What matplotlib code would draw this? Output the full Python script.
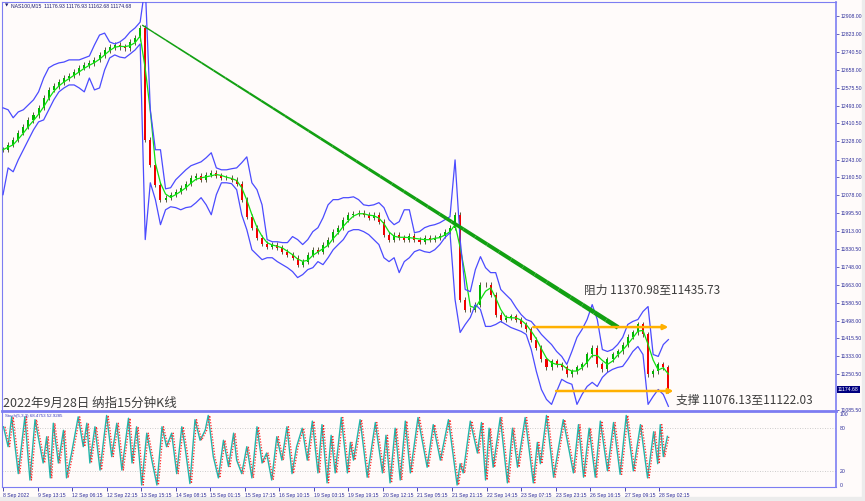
import numpy as np
import pandas as pd
import matplotlib
matplotlib.use("Agg")
import matplotlib.pyplot as plt
from matplotlib.collections import LineCollection
from matplotlib.patches import Rectangle

plt.rcParams['font.family'] = ['Noto Sans CJK SC', 'DejaVu Sans']

# NAS100 M15, one close every 10 bars
bar_step = 10
close = [12289, 12312, 12335, 12367, 12395, 12427, 12450, 12483, 12529, 12566,
         12584, 12603, 12621, 12631, 12649, 12668, 12681, 12691, 12705, 12728,
         12751, 12765, 12774, 12765, 12760, 12788, 12806, 12853, 12335, 12219,
         12127, 12058, 12067, 12081, 12095, 12113, 12131, 12159, 12168, 12150,
         12173, 12182, 12168, 12159, 12159, 12150, 12131, 12058, 11979, 11928,
         11882, 11854, 11840, 11850, 11836, 11817, 11803, 11789, 11757, 11771,
         11803, 11826, 11817, 11850, 11873, 11910, 11928, 11965, 11988, 11993,
         11997, 11988, 11974, 11988, 11956, 11896, 11873, 11896, 11882, 11873,
         11891, 11873, 11863, 11882, 11873, 11882, 11891, 11910, 11928, 11988,
         11595, 11549, 11549, 11572, 11665, 11665, 11618, 11526, 11503, 11512,
         11517, 11503, 11480, 11457, 11410, 11373, 11318, 11281, 11309, 11295,
         11281, 11249, 11263, 11281, 11295, 11341, 11373, 11295, 11272, 11318,
         11341, 11355, 11387, 11424, 11443, 11480, 11434, 11249, 11263, 11295,
         11281, 11174.68]
upper_band = [12483, 12474, 12437, 12464, 12474, 12497, 12520, 12557, 12621, 12668,
              12682, 12691, 12695, 12705, 12705, 12705, 12714, 12723, 12774, 12820,
              12829, 12788, 12779, 12788, 12806, 12834, 12853, 12880, 13050, 12474,
              12289, 12289, 12108, 12113, 12150, 12173, 12196, 12215, 12224, 12233,
              12252, 12275, 12205, 12196, 12196, 12201, 12205, 12229, 12256, 12136,
              12104, 12034, 11873, 11863, 11863, 11859, 11859, 11887, 11873, 11850,
              11873, 11910, 11928, 11974, 12034, 12058, 12058, 12067, 12067, 12071,
              12058, 12034, 12030, 12034, 12044, 12021, 11965, 11942, 11956, 12011,
              12011, 11905, 11910, 11928, 11937, 11942, 11951, 11965, 11979, 12242,
              11873, 11642, 11632, 11734, 11794, 11743, 11720, 11720, 11642, 11618,
              11595, 11558, 11526, 11503, 11494, 11466, 11434, 11410, 11387, 11355,
              11332, 11295, 11355, 11420, 11457, 11503, 11572, 11503, 11364, 11355,
              11364, 11387, 11420, 11480, 11494, 11503, 11540, 11563, 11341, 11332,
              11387, 11410]
lower_band = [12081, 12205, 12187, 12242, 12289, 12335, 12381, 12418, 12427, 12474,
              12520, 12557, 12575, 12589, 12589, 12575, 12557, 12621, 12566, 12575,
              12658, 12714, 12728, 12718, 12714, 12732, 12751, 12779, 11873, 12136,
              12058, 11942, 12011, 12025, 12021, 12011, 12021, 12025, 12044, 12067,
              12034, 11988, 12081, 12136, 12136, 12132, 12104, 11988, 11919, 11826,
              11803, 11780, 11789, 11789, 11771, 11757, 11743, 11725, 11697, 11711,
              11734, 11743, 11771, 11757, 11789, 11826, 11850, 11873, 11910, 11919,
              11919, 11910, 11896, 11873, 11850, 11789, 11771, 11789, 11720, 11771,
              11789, 11817, 11826, 11817, 11813, 11826, 11850, 11882, 11905, 11595,
              11443, 11480, 11512, 11572, 11549, 11471, 11471, 11480, 11494, 11480,
              11466, 11457, 11448, 11434, 11364, 11263, 11179, 11133, 11110, 11170,
              11226, 11212, 11203, 11110, 11156, 11193, 11212, 11193, 11235, 11258,
              11272, 11281, 11286, 11318, 11355, 11378, 11341, 11110, 11147, 11179,
              11156, 11101]

# Stoch(5,3,3) main line, turning points (bar index, value)
stoch_bar = [1, 10, 17, 30, 43, 53, 63, 73, 79, 86, 93, 99, 109, 119, 125, 135,
             148, 158, 165, 171, 181, 191, 204, 214, 224, 234, 247, 254, 263, 273,
             283, 293, 303, 313, 322, 332, 342, 352, 359, 368, 378, 388, 398, 404,
             414, 424, 434, 444, 454, 460, 470, 480, 490, 500, 510, 519, 529, 539,
             549, 559, 569, 578, 589, 599, 609, 620, 628, 638, 646, 654, 666, 678,
             684, 690, 703, 717, 733, 747, 754, 762, 772, 782, 792, 802, 817, 835,
             847, 861, 877, 894, 900, 906, 920, 934, 942, 950, 957, 965, 979, 993,
             1003, 1013, 1028, 1044, 1052, 1058, 1070, 1084, 1103, 1123, 1133, 1143,
             1154, 1166, 1176, 1190, 1202, 1215, 1227, 1241, 1255, 1269, 1281, 1289,
             1294, 1300, 1308]
stoch_k = [82, 54, 96, 16, 96, 7, 92, 54, 31, 68, 10, 87, 31, 77, 10, 45,
           96, 54, 87, 31, 82, 21, 98, 40, 87, 21, 94, 31, 82, 0,
           73, 35, 0, 82, 54, 73, 16, 82, 50, 2, 92, 63, 77, 98,
           40, 10, 63, 26, 73, 35, 16, 54, 10, 82, 31, 45, 7, 68,
           35, 82, 16, 54, 80, 35, 90, 17, 85, 3, 70, 17, 95, 17,
           60, 35, 92, 11, 88, 17, 70, 3, 80, 7, 90, 17, 95, 25,
           85, 35, 92, 0, 30, 17, 90, 45, 88, 7, 80, 25, 95, 3,
           80, 25, 95, 3, 60, 30, 98, 11, 92, 17, 85, 11,
           80, 11, 90, 20, 88, 15, 98, 20, 85, 10, 75, 30,
           85, 40, 68.47]

price_ticks = [12908.00, 12823.00, 12740.50, 12658.00, 12575.50, 12493.00,
               12410.50, 12328.00, 12243.00, 12160.50, 12078.00, 11995.50,
               11913.00, 11830.50, 11748.00, 11663.00, 11580.50, 11498.00,
               11415.50, 11333.00, 11250.50, 11085.50]
time_labels = ["8 Sep 2022", "9 Sep 13:15", "12 Sep 06:15", "12 Sep 22:15",
               "13 Sep 15:15", "14 Sep 08:15", "15 Sep 01:15", "15 Sep 17:15",
               "16 Sep 10:15", "19 Sep 03:15", "19 Sep 19:15", "20 Sep 12:15",
               "21 Sep 05:15", "21 Sep 21:15", "22 Sep 14:15", "23 Sep 07:15",
               "23 Sep 23:15", "26 Sep 16:15", "27 Sep 09:15", "28 Sep 02:15"]
bars_per_label = 68

# drawn objects: trend line and the two horizontal arrows
trend_start = (274, 12866)
trend_end = (1211, 11466)
resist_span = (1044, 1310, 11468)
support_span = (1089, 1320, 11172)

W, H = 865, 501
bg = '#fffbfa'
frame = '#7d7df2'
tick_col = '#2e2e9a'
small = dict(family='Liberation Sans', size=3.7)

fig = plt.figure(figsize=(W / 100, H / 100), dpi=100, facecolor=bg)
ax = fig.add_axes([2 / W, 1 - 410 / H, 834 / W, 408 / H], facecolor=bg)
ax2 = fig.add_axes([2 / W, 1 - 487 / H, 834 / W, 76 / H], facecolor=bg, sharex=ax)

x = np.arange(len(close)) * bar_step
close_a = np.array(close, dtype=float)

# candles between consecutive closes
opens = np.r_[close_a[0], close_a[:-1]]
body = close_a - opens
cols = np.where(body >= 0, '#00b400', '#f00000')
ax.vlines(x, np.minimum(opens, close_a) - 12, np.maximum(opens, close_a) + 12,
          color='#404020', lw=0.6, zorder=2)
ax.bar(x, body, bottom=opens, width=4, color=cols, zorder=3)

ma = pd.Series(close_a).rolling(3, min_periods=1).mean()
ax.plot(x, ma, color='#10e010', lw=0.9, zorder=4)
ax.plot(x, upper_band, color='#4b4bff', lw=0.9, zorder=5)
ax.plot(x, lower_band, color='#4b4bff', lw=0.9, zorder=5)

# tapered green trend line
t = np.linspace(0, 1, 41)
tx = trend_start[0] + t * (trend_end[0] - trend_start[0])
ty = trend_start[1] + t * (trend_end[1] - trend_start[1])
segs = np.stack([np.c_[tx[:-1], ty[:-1]], np.c_[tx[1:], ty[1:]]], axis=1)
ax.add_collection(LineCollection(segs, colors='#12a012',
                                 linewidths=np.linspace(1.0, 3.4, 40), zorder=6))

for x0, x1, lvl in (resist_span, support_span):
    ax.annotate('', xy=(x1, lvl), xytext=(x0, lvl),
                arrowprops=dict(arrowstyle='-|>', color='#ffb000', lw=1.8,
                                mutation_scale=7, shrinkA=0, shrinkB=0), zorder=7)

ax.set_xlim(-2, 1640)
ax.set_ylim(11084, 12973)
ax.yaxis.tick_right()
ax.set_yticks(price_ticks)
ax.set_yticklabels([f'{v:.2f}' for v in price_ticks], **small)
ax.tick_params(axis='y', direction='out', length=2.5, width=0.5, color=tick_col,
               labelcolor=tick_col, pad=1.2)
ax.tick_params(axis='x', bottom=False, labelbottom=False)

# stochastic panel
ax2.axhline(80, color='#bdbdbd', lw=0.6, ls=(0, (1, 2)))
ax2.axhline(20, color='#bdbdbd', lw=0.6, ls=(0, (1, 2)))
ax2.plot(stoch_bar, stoch_k, color='#22b5aa', lw=1.0)
ax2.plot(np.array(stoch_bar) + 3, stoch_k, color='#ff2a2a', lw=0.9, ls=(0, (1, 1.3)))
ax2.set_ylim(-2.8, 104.2)
ax2.yaxis.tick_right()
ax2.set_yticks([0, 20, 80, 100])
ax2.set_yticklabels(['0', '20', '80', '100'], **small)
ax2.tick_params(axis='y', direction='out', length=0, color=tick_col,
                labelcolor=tick_col, pad=2.5)
ax2.set_xticks(np.arange(len(time_labels)) * bars_per_label)
ax2.set_xticklabels(time_labels, **small)
ax2.tick_params(axis='x', direction='out', length=3, width=0.6, color=tick_col,
                labelcolor=tick_col, pad=1.2)
for lab in ax2.get_xticklabels():
    lab.set_horizontalalignment('left')

for a in (ax, ax2):
    for s in a.spines.values():
        s.set_color(frame)
        s.set_linewidth(0.8)
    a.spines['right'].set_linewidth(1.2)
ax2.spines['top'].set_linewidth(2.0)
ax.spines['bottom'].set_visible(False)

# texts
fig.text(5 / W, 1 - 5.5 / H, '\u25bc', color='#1c1c70', fontsize=3.2, va='center',
         family='DejaVu Sans')
fig.text(11 / W, 1 - 5.5 / H, 'NAS100,M15  11176.93 11176.93 11162.68 11174.68',
         color='#1c1c70', va='center', **small)
fig.text(5 / W, 1 - 416 / H, 'Stoch(5,3,3) 68.4753 52.9285', color='#3b3bc0',
         va='center', family='Liberation Sans', size=3.2)
fig.text(3 / W, 1 - 403 / H, '2022年9月28日 纳指15分钟K线', color='#3c3c3c',
         fontsize=9, va='center')
fig.text(584 / W, 1 - 290 / H, '阻力 11370.98至11435.73', color='#3c3c3c',
         fontsize=8.5, va='center')
fig.text(676 / W, 1 - 400 / H, '支撑 11076.13至11122.03', color='#3c3c3c',
         fontsize=8.5, va='center')
fig.text(838 / W, 1 - 389.5 / H, '11174.68', color='white', va='center',
         bbox=dict(facecolor='#000080', edgecolor='none', pad=0.7), **small)

fig.patches.append(Rectangle((0, 0), 1, 4 / H, transform=fig.transFigure,
                             color='#ececec', zorder=-1))
fig.patches.append(Rectangle((862 / W, 0), 3 / W, 1, transform=fig.transFigure,
                             color='#ececec', zorder=-1))

fig.savefig('out.png', dpi=100, facecolor=bg)
